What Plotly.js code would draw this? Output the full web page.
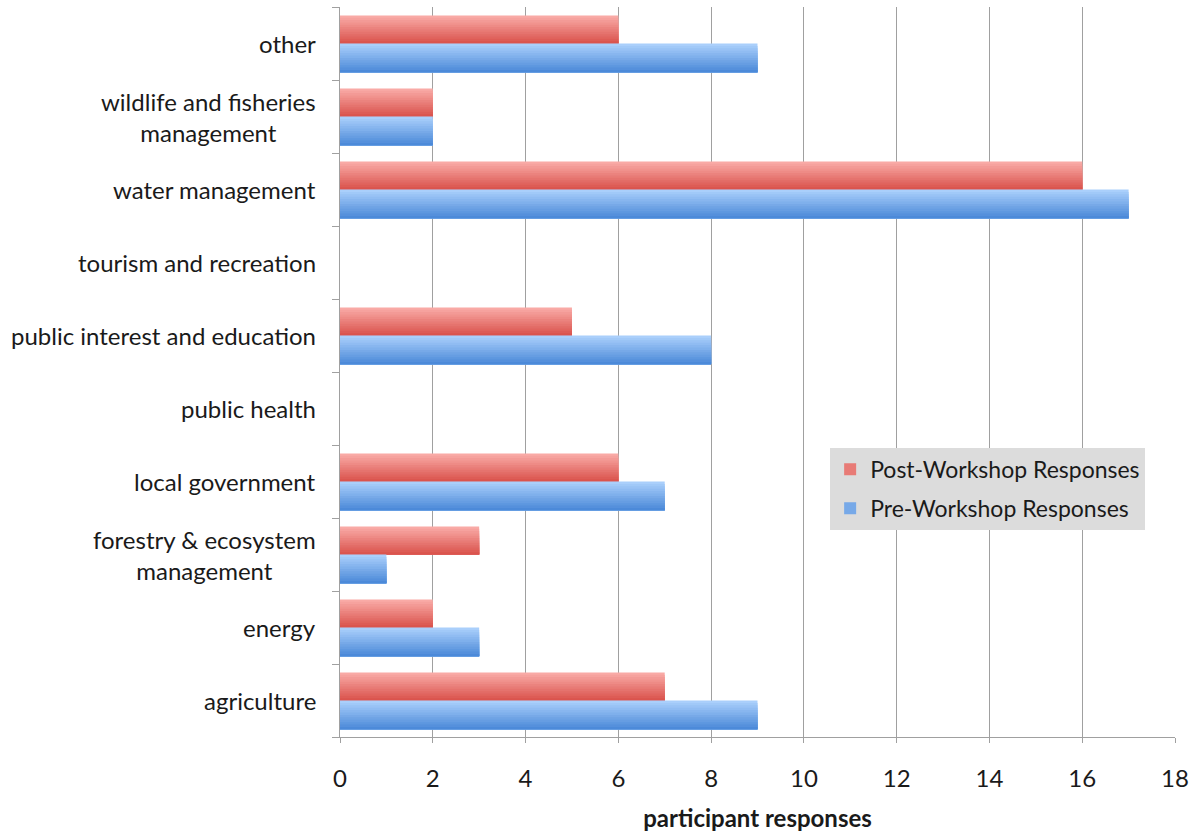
<!DOCTYPE html>
<html>
<head>
<meta charset="utf-8">
<script src="https://cdn.plot.ly/plotly-3.0.1.min.js"></script>
<style>
  html, body { margin: 0; padding: 0; background: #ffffff; }
  #chart { width: 1195px; height: 834px; }
</style>
</head>
<body>
<div id="chart"></div>
<script>
// Sectors, listed from the bottom of the chart to the top
const categories = [
  "agriculture",
  "energy",
  "forestry & ecosystem management",
  "local government",
  "public health",
  "public interest and education",
  "tourism and recreation",
  "water management",
  "wildlife and fisheries management",
  "other"
];
const categoryLabels = [
  "agriculture",
  "energy",
  "forestry & ecosystem<br>management",
  "local government",
  "public health",
  "public interest and education",
  "tourism and recreation",
  "water management",
  "wildlife and fisheries<br>management",
  "other"
];
const postWorkshop = [7, 2, 3, 6, 0, 5, 0, 16, 2, 6];
const preWorkshop  = [9, 3, 1, 7, 0, 8, 0, 17, 2, 9];
const seriesNames = ["Post-Workshop Responses", "Pre-Workshop Responses"];

const FONT = "Lato, 'Open Sans', sans-serif";

// Each bar is painted as nested layers, every layer reaching the bar's bottom edge and
// starting a little lower than the previous one, so the bar shades from a light top to a darker bottom.
const BANDS = 12;
function mix(a, b, t) {
  const pa = [1, 3, 5].map(i => parseInt(a.substr(i, 2), 16));
  const pb = [1, 3, 5].map(i => parseInt(b.substr(i, 2), 16));
  return "rgb(" + pa.map((v, i) => Math.round(v + (pb[i] - v) * t)).join(",") + ")";
}

function shadedSeries(values, name, top, bottom, lo, hi, rank) {
  const traces = [];
  const step = (hi - lo) / BANDS;
  for (let k = 0; k < BANDS; k++) {
    const t = k / (BANDS - 1);          // 0 = top layer, 1 = bottom layer
    traces.push({
      type: "bar",
      orientation: "h",
      y: categories,
      x: values,
      name: name,
      width: (hi - lo) - k * step,
      offset: lo,
      marker: { color: mix(top, bottom, t), line: { width: 0 } },
      showlegend: k === Math.floor(BANDS / 2),
      legendgroup: name,
      legendrank: rank,
      hoverinfo: "x+name"
    });
  }
  return traces;
}

const data = [].concat(
  shadedSeries(postWorkshop, seriesNames[0], "#f9aaa6", "#da544e", 0.0, 0.385, 1),
  shadedSeries(preWorkshop,  seriesNames[1], "#aacffb", "#4c8ad9", -0.395, 0.0, 2)
);

// Category names drawn beside the axis, each line centred within its label
const labelAnnotations = categories.map((c, i) => ({
  xref: "paper", yref: "y",
  x: 0, y: c,
  xanchor: "right", yanchor: "middle",
  xshift: -22,
  align: "center",
  text: categoryLabels[i],
  showarrow: false,
  font: { family: FONT, size: 24, color: "#1a1a1a" }
}));

const layout = {
  width: 1195,
  height: 834,
  margin: { l: 340, r: 20, t: 7, b: 97 },
  paper_bgcolor: "#ffffff",
  plot_bgcolor: "#ffffff",
  barmode: "overlay",
  font: { family: FONT, size: 24, color: "#1a1a1a" },
  xaxis: {
    range: [0, 18],
    dtick: 2,
    tick0: 0,
    showgrid: true,
    gridcolor: "#a0a0a0",
    gridwidth: 1,
    zeroline: false,
    showline: true,
    linecolor: "#a0a0a0",
    linewidth: 1,
    ticks: "outside",
    ticklen: 5,
    tickcolor: "#a0a0a0",
    ticklabelstandoff: 15,
    tickfont: { family: FONT, size: 24, color: "#1a1a1a" },
    title: {
      text: "<b>participant responses</b>",
      font: { family: FONT, size: 24, color: "#1a1a1a" },
      standoff: 19
    },
    fixedrange: true
  },
  yaxis: {
    type: "category",
    categoryorder: "array",
    categoryarray: categories,
    range: [-0.5, 9.5],
    showgrid: false,
    zeroline: false,
    showline: true,
    linecolor: "#a0a0a0",
    linewidth: 1,
    ticks: "outside",
    tickson: "boundaries",
    ticklen: 7,
    tickcolor: "#a0a0a0",
    showticklabels: false,
    fixedrange: true
  },
  legend: {
    x: 0.587, y: 0.396,
    xanchor: "left", yanchor: "top",
    bgcolor: "#dcdcdc",
    borderwidth: 0,
    traceorder: "grouped",
    tracegroupgap: 6,
    font: { family: FONT, size: 23, color: "#1a1a1a" }
  },
  annotations: labelAnnotations,
  showlegend: true
};

Plotly.newPlot("chart", data, layout, { displayModeBar: false, staticPlot: true });
</script>
</body>
</html>
